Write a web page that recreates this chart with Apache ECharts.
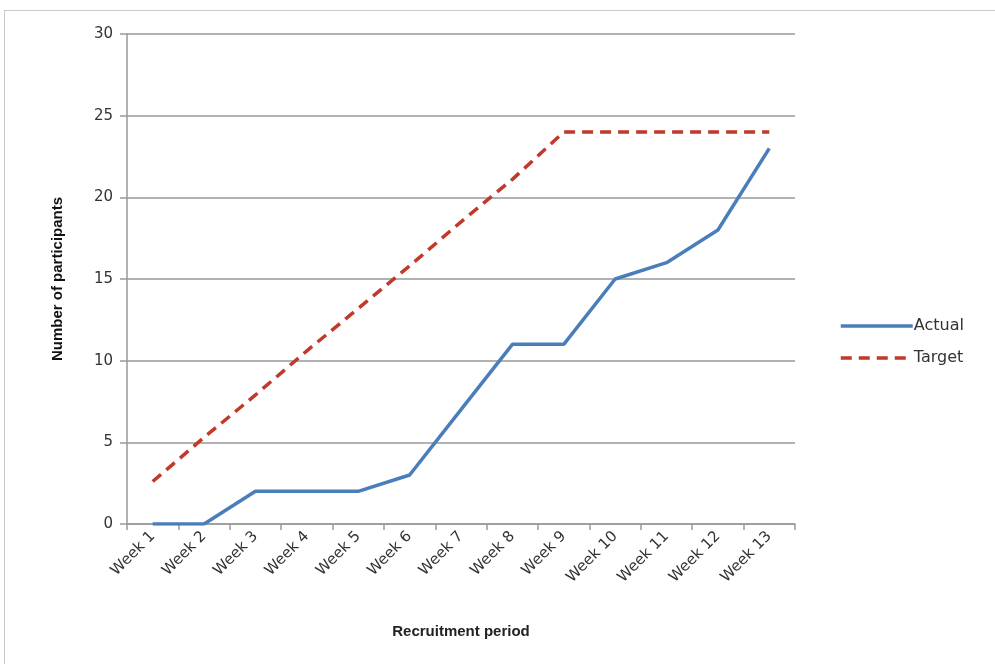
<!DOCTYPE html>
<html><head><meta charset="utf-8">
<script src="https://cdn.jsdelivr.net/npm/echarts@6/dist/echarts.min.js"></script>
<style>html,body{margin:0;padding:0;background:#fff}#c{width:995px;height:664px}</style>
</head><body><div id="c"></div>
<script>
const categories = ['Week 1','Week 2','Week 3','Week 4','Week 5','Week 6','Week 7','Week 8','Week 9','Week 10','Week 11','Week 12','Week 13'];
const actual = [0, 0, 2, 2, 2, 3, 7, 11, 11, 15, 16, 18, 23];
const target = [2.6, 5.3, 7.9, 10.6, 13.2, 15.8, 18.5, 21.1, 24, 24, 24, 24, 24];
const yTicks = [0, 5, 10, 15, 20, 25, 30];

const chart = echarts.init(document.getElementById('c'), null, {renderer: 'canvas'});
chart.setOption({
  animation: false,
  backgroundColor: '#fff',
  graphic: [
    {type: 'line', shape: {x1: 4, y1: 10.5, x2: 995, y2: 10.5}, style: {stroke: '#c8c8c8', lineWidth: 1}},
    {type: 'line', shape: {x1: 4.5, y1: 10, x2: 4.5, y2: 664}, style: {stroke: '#c8c8c8', lineWidth: 1}}
  ],
  grid: {left: 127, right: 200, top: 34, bottom: 140, containLabel: false},
  legend: {
    orient: 'vertical', left: 834, top: 313, itemGap: 16, itemWidth: 72, itemHeight: 14,
    itemStyle: {opacity: 0},
    lineStyle: {width: 3.5},
    textStyle: {fontFamily: 'DejaVu Sans', fontSize: 16, color: '#333', padding: [0,0,0,-4]},
    data: ['Actual', 'Target']
  },
  xAxis: {
    type: 'category', data: categories, boundaryGap: true,
    name: 'Recruitment period', nameLocation: 'middle', nameGap: 100,
    nameTextStyle: {fontFamily: 'Liberation Sans Narrow, Liberation Sans', fontWeight: 'bold', fontSize: 15, color: '#222'},
    axisLine: {lineStyle: {color: '#999', width: 1.5}},
    axisTick: {show: true, length: 6, lineStyle: {color: '#999', width: 1.5}, alignWithLabel: false},
    axisLabel: {rotate: 45, fontFamily: 'DejaVu Sans', fontSize: 15, color: '#333', margin: 10, interval: 0},
    splitLine: {show: false}
  },
  yAxis: {
    type: 'value', min: 0, max: 30, interval: 5,
    name: 'Number of participants', nameLocation: 'middle', nameGap: 62,
    nameTextStyle: {fontFamily: 'Liberation Sans Narrow, Liberation Sans', fontWeight: 'bold', fontSize: 15, color: '#111'},
    axisLine: {show: true, lineStyle: {color: '#999', width: 1.5}},
    axisTick: {show: true, length: 7, lineStyle: {color: '#999', width: 1.5}},
    axisLabel: {fontFamily: 'DejaVu Sans', fontSize: 15, color: '#333', margin: 14,
      formatter: v => yTicks.includes(v) ? String(v) : ''},
    splitLine: {lineStyle: {color: '#999', width: 1.5}}
  },
  series: [
    {name: 'Actual', type: 'line', data: actual, symbol: 'none', smooth: false,
     lineStyle: {color: '#4a7ebb', width: 3.5}, itemStyle: {color: '#4a7ebb'}},
    {name: 'Target', type: 'line', data: target, symbol: 'none', smooth: false,
     lineStyle: {color: '#c0392b', width: 3.5, type: [11, 7]}, itemStyle: {color: '#c0392b'}}
  ]
});
</script></body></html>
